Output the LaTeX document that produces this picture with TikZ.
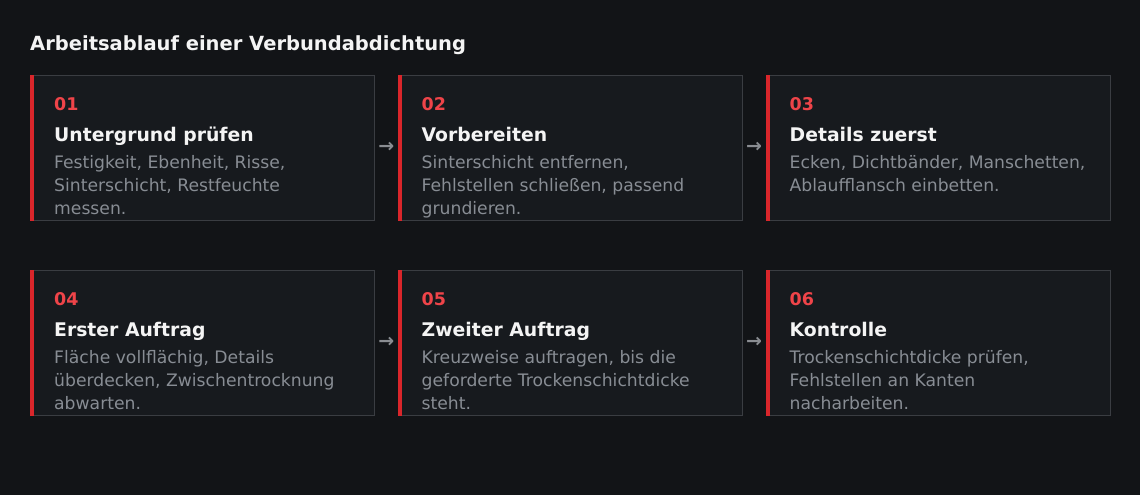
\documentclass[tikz,border=0pt]{standalone}
\usepackage{fontspec}
\setmainfont{DejaVu Sans}
\usetikzlibrary{calc}
\definecolor{bgc}{HTML}{121417}
\definecolor{cardc}{HTML}{171A1E}
\definecolor{edgec}{HTML}{3A3D42}
\definecolor{barc}{HTML}{D9262B}
\definecolor{numc}{HTML}{EF4449}
\definecolor{titlec}{HTML}{F4F4F4}
\definecolor{descc}{HTML}{888D94}
\definecolor{arrc}{HTML}{8A8D92}
\tikzset{
  card/.style={draw=edgec, fill=cardc, line width=1pt, minimum width=344pt, minimum height=145pt, inner sep=0pt, anchor=north west},
  numtxt/.style={anchor=base west, inner sep=0pt, text=numc, font=\bfseries\fontsize{17.5}{20}\selectfont},
  titletxt/.style={anchor=base west, inner sep=0pt, text=titlec, font=\bfseries\fontsize{18.8}{22}\selectfont},
  desctxt/.style={anchor=base west, inner sep=0pt, text=descc, font=\fontsize{17.2}{23}\selectfont},
  arrtxt/.style={inner sep=0pt, text=arrc, font=\bfseries\fontsize{19}{22}\selectfont},
  headtxt/.style={anchor=base west, inner sep=0pt, text=titlec, font=\bfseries\fontsize{19.5}{24}\selectfont}
}
\newcommand\stepcard[6]{%
  \node[card] (#1) at (#2,#3) {};
  \fill[barc] (#1.north west) rectangle ($(#1.south west)+(4,0)$);
  \node[numtxt] (#1n) at ($(#1.north west)+(24,36)$) {#4};
  \node[titletxt] (#1t) at ($(#1.north west)+(24,67)$) {#5};
  \node[desctxt] (#1d) at ($(#1.north west)+(24,94)$) {\parbox[t]{310pt}{\raggedright #6}};
}
\begin{document}
\begin{tikzpicture}[x=1pt,y=-1pt]
\fill[bgc] (0,0) rectangle (1140,495);
\useasboundingbox (0,0) rectangle (1140,495);
\node[headtxt] (head) at (30,50.7) {Arbeitsablauf einer Verbundabdichtung};
\stepcard{b1}{30}{74.5}{01}{Untergrund prüfen}{Festigkeit, Ebenheit, Risse,\\Sinterschicht, Restfeuchte\\messen.}
\stepcard{b2}{397.5}{74.5}{02}{Vorbereiten}{Sinterschicht entfernen,\\Fehlstellen schließen, passend\\grundieren.}
\stepcard{b3}{765.5}{74.5}{03}{Details zuerst}{Ecken, Dichtbänder, Manschetten,\\Ablaufflansch einbetten.}
\stepcard{b4}{30}{269.5}{04}{Erster Auftrag}{Fläche vollflächig, Details\\überdecken, Zwischentrocknung\\abwarten.}
\stepcard{b5}{397.5}{269.5}{05}{Zweiter Auftrag}{Kreuzweise auftragen, bis die\\geforderte Trockenschichtdicke\\steht.}
\stepcard{b6}{765.5}{269.5}{06}{Kontrolle}{Trockenschichtdicke prüfen,\\Fehlstellen an Kanten\\nacharbeiten.}
\node[arrtxt] (a12) at ($(b1.east)!0.5!(b2.west)$) {→};
\node[arrtxt] (a23) at ($(b2.east)!0.5!(b3.west)$) {→};
\node[arrtxt] (a45) at ($(b4.east)!0.5!(b5.west)$) {→};
\node[arrtxt] (a56) at ($(b5.east)!0.5!(b6.west)$) {→};
\end{tikzpicture}
\end{document}
